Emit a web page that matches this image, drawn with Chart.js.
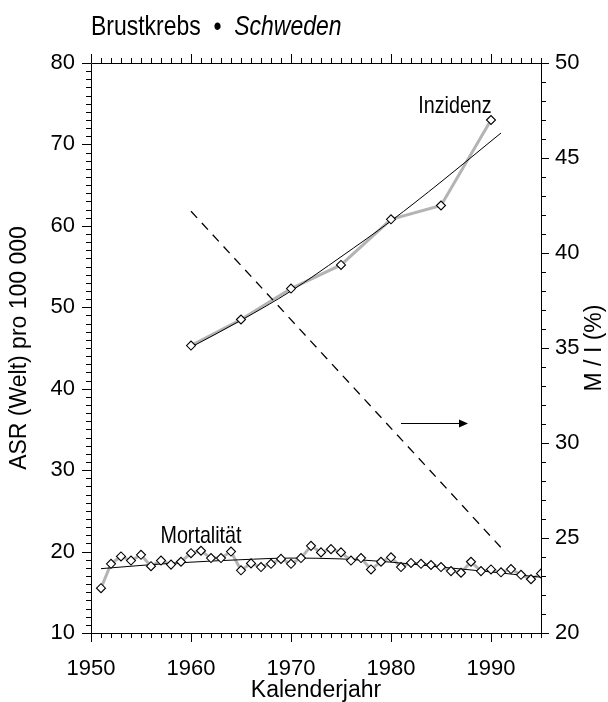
<!DOCTYPE html>
<html><head><meta charset="utf-8">
<script src="https://cdn.jsdelivr.net/npm/chart.js@4"></script>
<style>html,body{margin:0;padding:0;background:#fff}</style>
</head><body>
<div style="width:608px;height:702px"><canvas id="c" width="608" height="702"></canvas></div>
<script>
// ---- data ----
const mortYears = [1951,1952,1953,1954,1955,1956,1957,1958,1959,1960,1961,1962,1963,1964,1965,1966,1967,1968,1969,1970,1971,1972,1973,1974,1975,1976,1977,1978,1979,1980,1981,1982,1983,1984,1985,1986,1987,1988,1989,1990,1991,1992,1993,1994,1995];
const mortValues = [15.5,18.5,19.4,18.9,19.6,18.2,18.9,18.4,18.75,19.8,20.1,19.2,19.2,20.0,17.7,18.55,18.1,18.5,19.1,18.5,19.2,20.7,19.9,20.3,19.9,18.9,19.2,17.8,18.75,19.3,18.1,18.6,18.5,18.35,18.1,17.6,17.4,18.75,17.6,17.8,17.45,17.85,17.15,16.6,17.3];
const mortFitYears = [1951,1955,1960,1965,1970,1975,1980,1985,1990,1995];
const mortFitValues = [17.9,18.3,18.7,19.0,19.2,19.1,18.7,18.1,17.5,16.85];
const incYears = [1960,1965,1970,1975,1980,1985,1990];
const incValues = [45.3,48.5,52.3,55.2,60.8,62.5,73.0];
const incFitYears = [1960,1965,1970,1975,1980,1985,1990,1991];
const incFitValues = [45.1,48.4,52.0,56.2,60.6,65.4,70.4,71.4];
const ratioYears = [1960,1991];
const ratioValues = [42.2,24.5];
const xTickValues = [1950,1960,1970,1980,1990];
const yTickValues = [10,20,30,40,50,60,70,80];
const y2TickValues = [20,25,30,35,40,45,50];
const arrowYears = [1981,1987.7];
const arrowLevel = 31.05;
const labelInz = {text:'Inzidenz', x:1986.4, y:74.7};
const labelMort = {text:'Mortalität', x:1961.0, y:21.9};

const pts = (xs, ys) => xs.map((x,i)=>({x, y: ys[i]}));
const FONT = "'Liberation Sans', Arial, sans-serif";

const decor = {
  id: 'decor',
  afterDraw(chart) {
    const ctx = chart.ctx;
    const a = chart.chartArea;
    const sx = chart.scales.x, sy = chart.scales.y, sy2 = chart.scales.y2;
    ctx.save();
    ctx.strokeStyle = '#000';
    ctx.lineWidth = 1;
    // frame
    ctx.beginPath();
    ctx.rect(Math.round(a.left)+0.5, Math.round(a.top)+0.5, Math.round(a.right-a.left), Math.round(a.bottom-a.top));
    ctx.stroke();
    ctx.beginPath();
    for (let yr = 1950; yr <= 1995; yr++) {
      const px = Math.round(sx.getPixelForValue(yr)) + 0.5;
      const len = yr % 10 === 0 ? 9 : 5;
      ctx.moveTo(px, a.bottom); ctx.lineTo(px, a.bottom + len);
      ctx.moveTo(px, a.top); ctx.lineTo(px, a.top - len);
    }
    for (let v = 10; v <= 80; v++) {
      const py = Math.round(sy.getPixelForValue(v)) + 0.5;
      const len = v % 10 === 0 ? 9 : 5;
      ctx.moveTo(a.left, py); ctx.lineTo(a.left - len, py);
    }
    for (let v = 20; v <= 50; v++) {
      const py = Math.round(sy2.getPixelForValue(v)) + 0.5;
      const len = v % 5 === 0 ? 8 : 5;
      ctx.moveTo(a.right, py); ctx.lineTo(a.right + len, py);
    }
    ctx.stroke();

    // arrow
    const ay = Math.round(sy2.getPixelForValue(arrowLevel)) + 0.5;
    const ax0 = sx.getPixelForValue(arrowYears[0]);
    const ax1 = sx.getPixelForValue(arrowYears[1]);
    ctx.beginPath();
    ctx.moveTo(ax0, ay); ctx.lineTo(ax1 - 6, ay); ctx.stroke();
    ctx.beginPath();
    ctx.fillStyle = '#000';
    ctx.moveTo(ax1, ay); ctx.lineTo(ax1 - 9, ay - 4); ctx.lineTo(ax1 - 9, ay + 4); ctx.closePath(); ctx.fill();

    // narrow labels
    function narrowText(txt, x, y, size, align, italic) {
      ctx.save();
      ctx.translate(x, y);
      ctx.scale(0.82, 1);
      ctx.font = (italic ? 'italic ' : '') + size + 'px ' + FONT;
      ctx.textAlign = align;
      ctx.textBaseline = 'middle';
      ctx.fillStyle = '#000';
      ctx.fillText(txt, 0, 0);
      ctx.restore();
    }
    narrowText(labelInz.text, sx.getPixelForValue(labelInz.x), sy.getPixelForValue(labelInz.y), 24, 'center');
    narrowText(labelMort.text, sx.getPixelForValue(labelMort.x), sy.getPixelForValue(labelMort.y), 24, 'center');

    // title
    ctx.save();
    ctx.translate(a.left, 27);
    ctx.scale(0.82, 1);
    ctx.fillStyle = '#000';
    ctx.textBaseline = 'middle';
    ctx.textAlign = 'left';
    ctx.font = '28px ' + FONT;
    const t1 = 'Brustkrebs  •  ';
    ctx.fillText(t1, 0, 0);
    const w1 = ctx.measureText(t1).width;
    ctx.font = 'italic 28px ' + FONT;
    ctx.fillText('Schweden', w1, 0);
    ctx.restore();

    // axis titles
    ctx.fillStyle = '#000';
    ctx.font = '23px ' + FONT;
    ctx.textAlign = 'center';
    ctx.textBaseline = 'middle';
    ctx.fillText('Kalenderjahr', (a.left + a.right) / 2, 691);
    ctx.save();
    ctx.translate(20, (a.top + a.bottom) / 2);
    ctx.rotate(-Math.PI / 2);
    ctx.fillText('ASR (Welt) pro 100 000', 0, 0);
    ctx.restore();
    ctx.save();
    ctx.translate(595, (a.top + a.bottom) / 2);
    ctx.rotate(-Math.PI / 2);
    ctx.fillText('M / I (%)', 0, 0);
    ctx.restore();
    ctx.restore();
  }
};

const marker = {pointStyle:'rectRot', pointRadius:4.5, pointBackgroundColor:'#fff', pointBorderColor:'#000', pointBorderWidth:1.1, showLine:false};

new Chart(document.getElementById('c'), {
  type: 'line',
  data: {
    datasets: [
      Object.assign({data: pts(incYears, incValues), yAxisID:'y', order:0}, marker),
      Object.assign({data: pts(mortYears, mortValues), yAxisID:'y', order:0}, marker),
      {data: pts(incFitYears, incFitValues), yAxisID:'y', borderColor:'#000', borderWidth:1, pointRadius:0, cubicInterpolationMode:'monotone', order:1},
      {data: pts(mortFitYears, mortFitValues), yAxisID:'y', borderColor:'#000', borderWidth:1, pointRadius:0, cubicInterpolationMode:'monotone', order:1},
      {data: pts(ratioYears, ratioValues), yAxisID:'y2', borderColor:'#000', borderWidth:1.3, borderDash:[9,7], pointRadius:0, order:1},
      {data: pts(incYears, incValues), yAxisID:'y', borderColor:'#b4b4b4', borderWidth:3, pointRadius:0, order:2},
      {data: pts(mortYears, mortValues), yAxisID:'y', borderColor:'#b4b4b4', borderWidth:3, pointRadius:0, order:2}
    ]
  },
  options: {
    responsive: false,
    devicePixelRatio: 1,
    animation: false,
    layout: {padding: {top: 63, left: 0, right: 0, bottom: 0}},
    plugins: {legend:{display:false}, tooltip:{enabled:false}, title:{display:false}},
    scales: {
      x: {
        type:'linear', position:'bottom', min:1950, max:1995,
        grid:{display:false, drawTicks:false}, border:{display:false},
        afterBuildTicks: s => { s.ticks = xTickValues.map(v=>({value:v})); },
        afterFit: s => { s.height = 69; },
        ticks:{padding:23, color:'#000', font:{family:FONT, size:22}, callback: v => String(v), maxRotation:0}
      },
      y: {
        type:'linear', position:'left', min:10, max:80,
        grid:{display:false, drawTicks:false}, border:{display:false},
        afterBuildTicks: s => { s.ticks = yTickValues.map(v=>({value:v})); },
        afterFit: s => { s.width = 91; },
        ticks:{padding:16, color:'#000', font:{family:FONT, size:22}, callback: v => String(v)}
      },
      y2: {
        type:'linear', position:'right', min:20, max:50,
        grid:{display:false, drawTicks:false}, border:{display:false},
        afterBuildTicks: s => { s.ticks = y2TickValues.map(v=>({value:v})); },
        afterFit: s => { s.width = 67; },
        ticks:{padding:14, color:'#000', font:{family:FONT, size:22}, callback: v => String(v)}
      }
    }
  },
  plugins: [decor]
});
</script>
</body></html>
